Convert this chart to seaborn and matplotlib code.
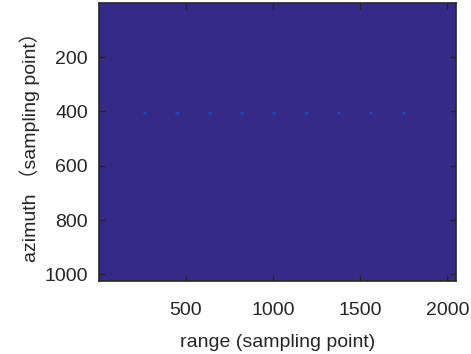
import matplotlib

matplotlib.use("Agg")
import matplotlib.pyplot as plt
import numpy as np
import pandas as pd
import seaborn as sns
from matplotlib.colors import LinearSegmentedColormap

sns.set_theme(style="ticks")
plt.rcParams["font.family"] = ["Liberation Sans", "Noto Sans CJK SC", "DejaVu Sans"]

# echo matrix size (azimuth x range samples)
n_azimuth, n_range = 1024, 2048
# point targets
target_range = [265, 450, 635, 820, 1005, 1190, 1375, 1560, 1750]
target_azimuth = [406, 406, 406, 406, 406, 406, 406, 406, 406]
peak_level = [0.07, 0.07, 0.07, 0.07, 0.07, 0.07, 0.07, 0.07, 0.08]
halo_level = 0.03

xtick_vals = [500, 1000, 1500, 2000]
ytick_vals = [200, 400, 600, 800, 1000]

# parula-like colour map
parula = LinearSegmentedColormap.from_list("parula", [
    "#352a87", "#0f5cdd", "#1481d6", "#06a4ca", "#2eb7a4",
    "#87bf77", "#d1bb59", "#fec832", "#f9fb0e"])

img = np.zeros((n_azimuth, n_range))
for r, a, p in zip(target_range, target_azimuth, peak_level):
    img[a - 6:a + 7, r - 12:r + 13] = halo_level
    img[a - 3:a + 4, r - 6:r + 7] = p
img = pd.DataFrame(img)

fig = plt.figure(figsize=(4.71, 3.54), dpi=100)
ax = fig.add_axes([0.210, 0.206, 0.758, 0.786])
sns.heatmap(img, ax=ax, cmap=parula, vmin=0, vmax=1, cbar=False,
            xticklabels=False, yticklabels=False, rasterized=True)
ax.set_axisbelow(False)

for s in ax.spines.values():
    s.set_visible(True)
    s.set_color("#262626")
    s.set_linewidth(1.2)
    s.set_zorder(10)

ax.set_xticks([v - 0.5 for v in xtick_vals])
ax.set_xticklabels([str(v) for v in xtick_vals])
ax.set_yticks([v - 0.5 for v in ytick_vals])
ax.set_yticklabels([str(v) for v in ytick_vals], rotation=0)
ax.tick_params(direction="in", length=4, width=1, color="#262626",
               top=True, right=True, bottom=True, left=True,
               labelsize=14, labelcolor="#262626", pad=8)
ax.tick_params(axis="x", pad=15)
ax.set_xlabel("range (sampling point)", fontsize=14, color="#262626", labelpad=11)
ax.set_ylabel("azimuth （sampling point）", fontsize=14, color="#262626", labelpad=3)

fig.savefig("out.png", dpi=100)
